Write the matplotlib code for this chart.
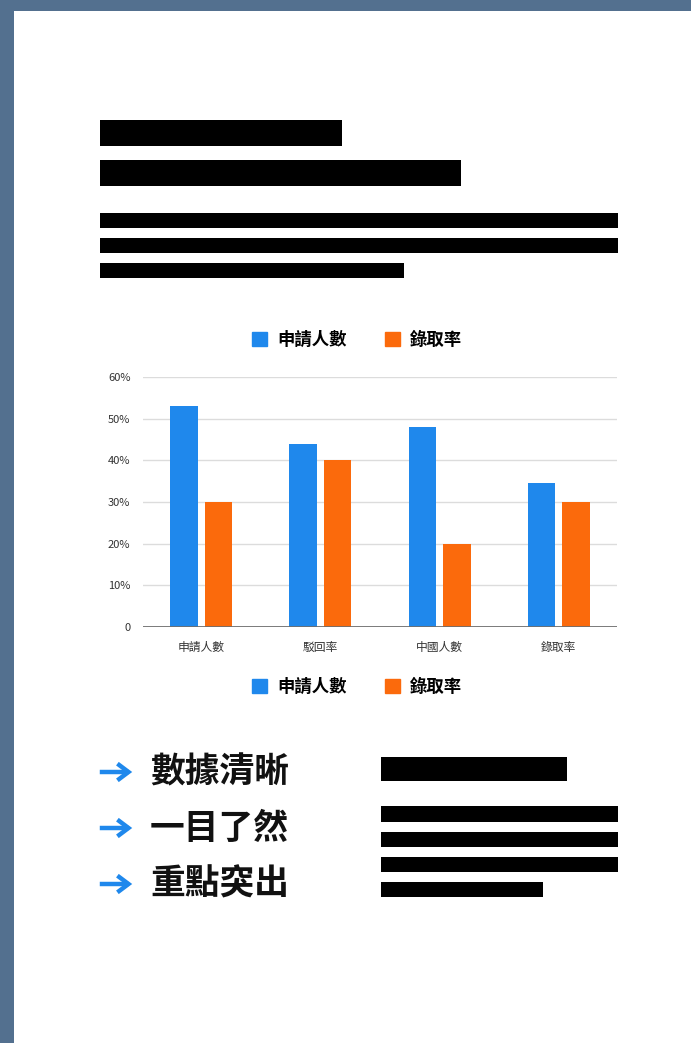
import matplotlib
matplotlib.use('Agg')
import matplotlib.pyplot as plt
from matplotlib.patches import Rectangle, Patch, FancyArrowPatch
import numpy as np

plt.rcParams['font.family'] = ['Noto Sans CJK TC', 'DejaVu Sans']

# data
categories = ['申請人數', '駁回率', '中國人數', '錄取率']
series_names = ['申請人數', '錄取率']
applicants = [53, 44, 48, 34.5]
admit_rate = [30, 40, 20, 30]
yticks = [0, 10, 20, 30, 40, 50, 60]
ytick_labels = ['0', '10%', '20%', '30%', '40%', '50%', '60%']
bullets = ['數據清晰', '一目了然', '重點突出']

blue = '#1f88ec'
orange = '#fb6a0c'

W, H = 691, 1043
fig = plt.figure(figsize=(W / 100, H / 100), dpi=100, facecolor='#53708f')


def fx(px):
    return px / W


def fy(py):
    return 1 - py / H


def box(x0, y0, x1, y1, color='black', z=1):
    fig.add_artist(Rectangle((fx(x0), fy(y1)), fx(x1) - fx(x0), fy(y0) - fy(y1),
                             transform=fig.transFigure, color=color, lw=0, zorder=z))


# page
box(14, 11, W, H, color='white', z=-10)

# redacted header lines
for b in [(100, 120, 342, 146), (100, 160, 461, 186), (100, 213, 618, 228),
          (100, 238, 618, 253), (100, 263, 404, 278)]:
    box(*b)

# chart
ax = fig.add_axes([fx(143), fy(627), fx(617) - fx(143), fy(377) - fy(627)])
ax.set_facecolor('none')
x = np.arange(len(categories))
w = 0.23
ax.bar(x - 0.145, applicants, w, color=blue, zorder=3)
ax.bar(x + 0.145, admit_rate, w, color=orange, zorder=3)
ax.set_xlim(-0.49, 3.49)
ax.set_ylim(0, 60)
ax.set_yticks(yticks)
ax.set_yticklabels(ytick_labels)
ax.set_xticks(x)
ax.set_xticklabels(categories)
ax.tick_params(length=0, labelsize=8, colors='#333333')
ax.tick_params(axis='y', pad=9)
ax.tick_params(axis='x', pad=10, labelsize=8.5)
ax.grid(axis='y', color='#dcdcdc', lw=1, zorder=0)
for s in ax.spines.values():
    s.set_visible(False)
ax.axhline(0, color='#6e6e6e', lw=2, zorder=4)

handles = [Patch(color=blue), Patch(color=orange)]
leg_kw = dict(loc='center', frameon=False, ncol=2, handlelength=0.85, handleheight=0.85,
              handletextpad=0.6, columnspacing=2.2, prop={'size': 12.5, 'weight': 'bold'},
              bbox_transform=fig.transFigure)
leg1 = ax.legend(handles, series_names, bbox_to_anchor=(fx(357), fy(340)), **leg_kw)
ax.add_artist(leg1)
ax.legend(handles, series_names, bbox_to_anchor=(fx(357), fy(687)), **leg_kw)

# bullet points
for i, t in enumerate(bullets):
    y = 772 + i * 56
    fig.add_artist(FancyArrowPatch((fx(97), fy(y)), (fx(135), fy(y)), transform=fig.transFigure,
                                   arrowstyle='->,head_length=8,head_width=6', color=blue,
                                   lw=3.2, mutation_scale=1, capstyle='butt', joinstyle='miter'))
    fig.text(fx(150), fy(y), t, fontsize=25, fontweight='bold', color='#111111', va='center', ha='left')

# redacted side text
for b in [(381, 757, 567, 781), (381, 806, 618, 822), (381, 832, 618, 847),
          (381, 857, 618, 872), (381, 882, 543, 897)]:
    box(*b)

fig.savefig('out.png', dpi=100, facecolor=fig.get_facecolor())
